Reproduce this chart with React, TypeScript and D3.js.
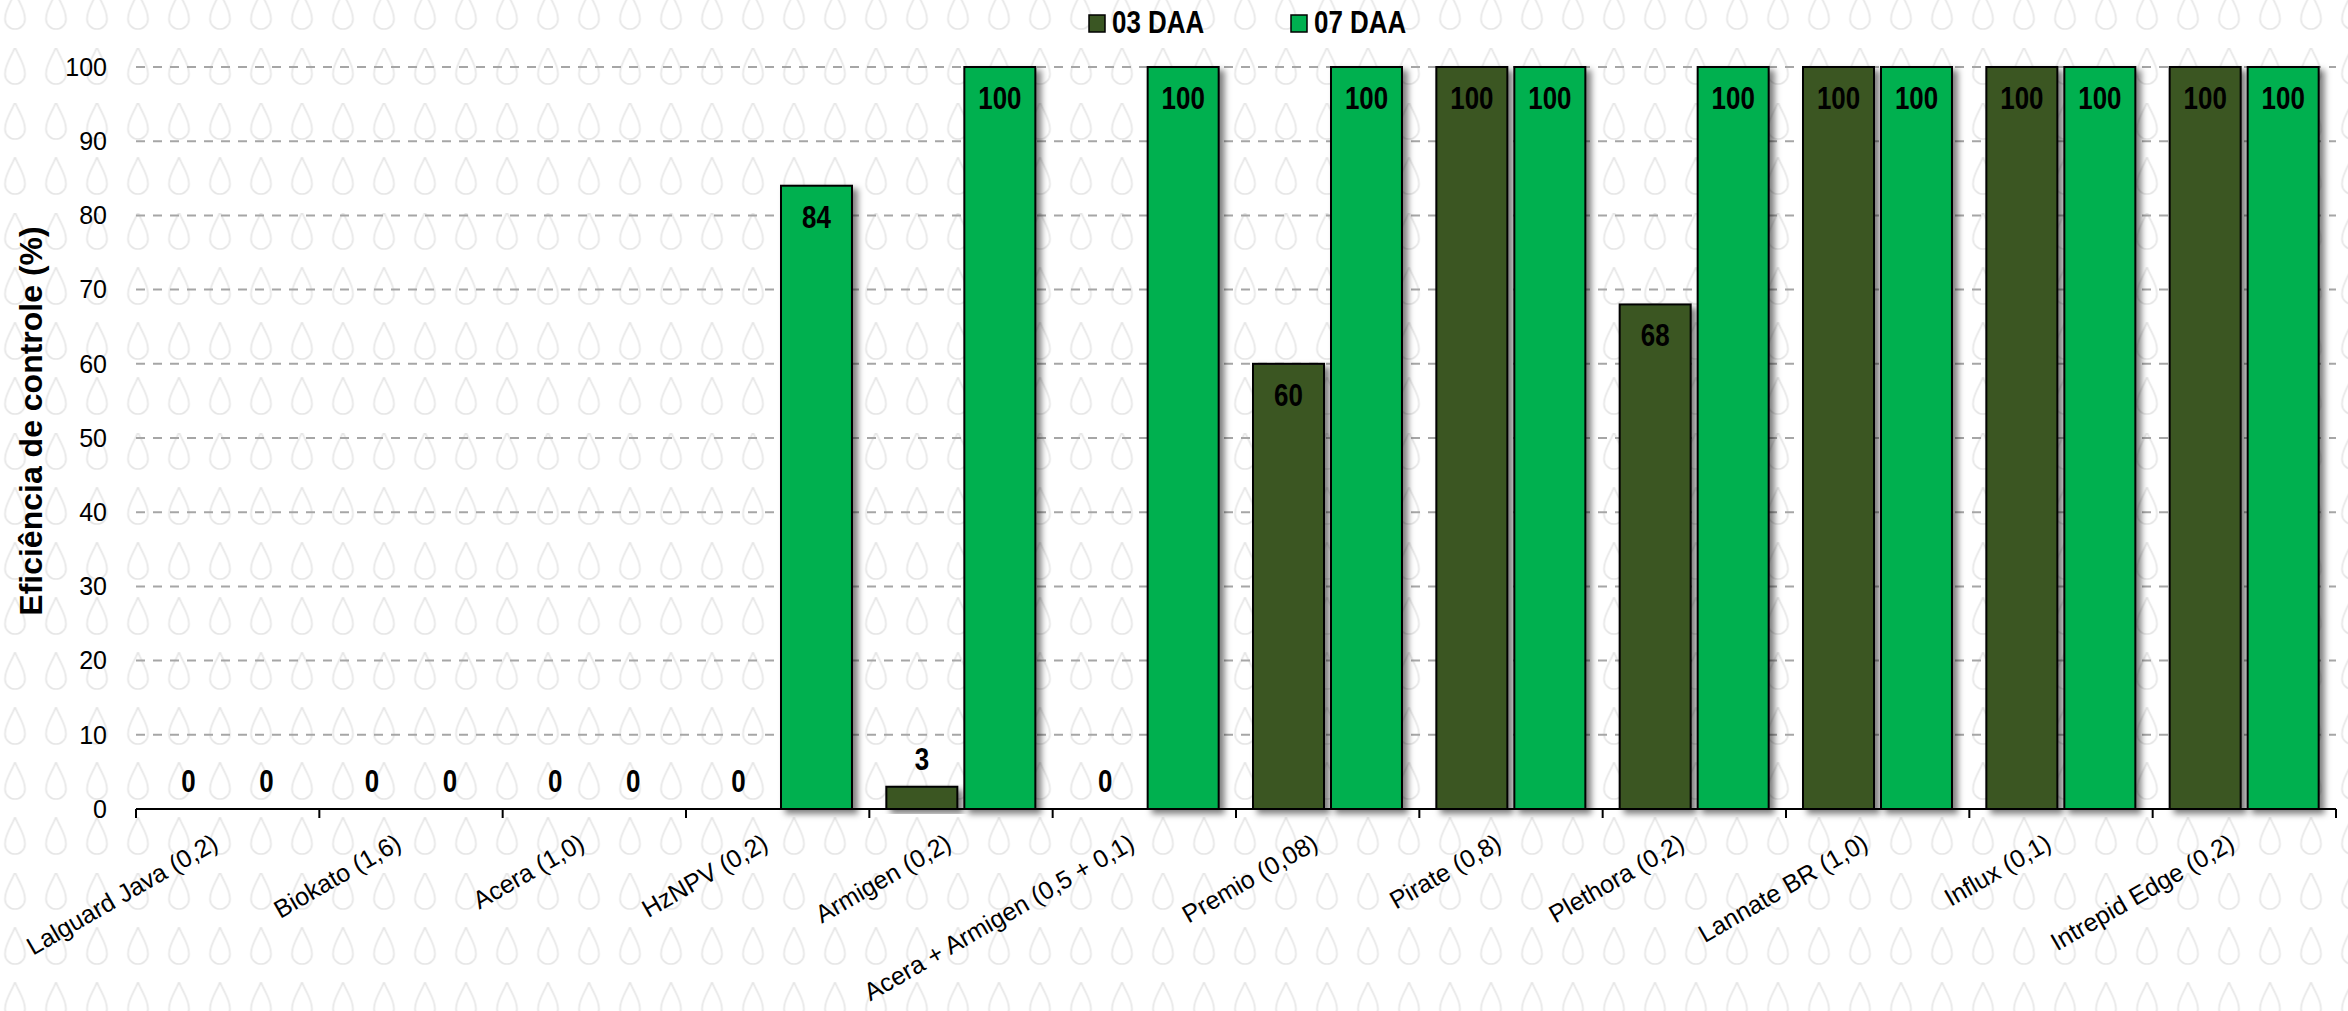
import React from "react";
import * as d3 from "d3";

const categories = [
  "Lalguard Java (0,2)",
  "Biokato (1,6)",
  "Acera (1,0)",
  "HzNPV (0,2)",
  "Armigen (0,2)",
  "Acera + Armigen (0,5 + 0,1)",
  "Premio (0,08)",
  "Pirate (0,8)",
  "Plethora (0,2)",
  "Lannate BR (1,0)",
  "Influx (0,1)",
  "Intrepid Edge (0,2)",
];
const seriesNames = ["03 DAA", "07 DAA"];
const daa03 = [0, 0, 0, 0, 3, 0, 60, 100, 68, 100, 100, 100];
const daa07 = [0, 0, 0, 84, 100, 100, 100, 100, 100, 100, 100, 100];
const yTicks = [0, 10, 20, 30, 40, 50, 60, 70, 80, 90, 100];
const colors = ["#3A5623", "#00B050"];
const yTitle = "Eficiência de controle (%)";

const W = 2348;
const H = 1011;
const plot = { left: 136, right: 2336, top: 67, bottom: 809 };
const sans = "'Liberation Sans', Arial, sans-serif";
const NARROW = 0.81;

export default function App() {
  const x = d3.scaleBand<string>().domain(categories).range([plot.left, plot.right]).paddingInner(0).paddingOuter(0);
  const step = x.step();
  const xs = d3
    .scaleBand<string>()
    .domain(seriesNames)
    .range([17, step - 17.33])
    .paddingInner(0.0897)
    .paddingOuter(0);
  const y = d3.scaleLinear().domain([0, 100]).range([plot.bottom, plot.top]);
  const series = [daa03, daa07];

  const dropPath = "M0,-19 C3,-10 10,-2 10,8 A10,10 0 0 1 -10,8 C-10,-2 -3,-10 0,-19 Z";

  return (
    <svg width={W} height={H} style={{ position: "absolute", left: 0, top: 0, display: "block", background: "#fff" }}>
      <defs>
        <pattern id="drops" x={-5.5} y={-8} width={41} height={55} patternUnits="userSpaceOnUse">
          <path d={dropPath} transform="translate(20.5,19)" fill="none" stroke="#e6e6e6" strokeWidth={1.7} />
        </pattern>
        <filter id="shadow" x="-20%" y="-10%" width="150%" height="130%">
          <feDropShadow dx={5} dy={4} stdDeviation={3} floodColor="#000" floodOpacity={0.5} />
        </filter>
      </defs>
      <rect x={0} y={0} width={W} height={H} fill="#fff" />
      <rect x={0} y={0} width={W} height={H} fill="url(#drops)" />

      {/* gridlines */}
      {yTicks
        .filter((t) => t > 0)
        .map((t) => (
          <line key={t} x1={plot.left} x2={plot.right} y1={y(t)} y2={y(t)} stroke="#a6a6a6" strokeWidth={2} strokeDasharray="9 8" />
        ))}

      {/* y tick labels */}
      {yTicks.map((t) => (
        <text key={t} x={107} y={y(t)} dy="0.35em" textAnchor="end" fontFamily={sans} fontSize={25} fill="#000">
          {t}
        </text>
      ))}

      {/* bars */}
      {categories.map((c, i) => (
        <g key={c} transform={`translate(${x(c)},0)`}>
          {series.map((vals, s) => {
            const v = vals[i];
            if (v <= 0) return null;
            return (
              <rect
                key={s}
                x={xs(seriesNames[s])}
                y={y(v)}
                width={xs.bandwidth()}
                height={y(0) - y(v)}
                fill={colors[s]}
                stroke="#000"
                strokeWidth={2}
                filter="url(#shadow)"
              />
            );
          })}
        </g>
      ))}

      {/* axis line */}
      <line x1={plot.left} x2={plot.right} y1={plot.bottom} y2={plot.bottom} stroke="#000" strokeWidth={2} />
      {d3.range(categories.length + 1).map((k) => (
        <line key={k} x1={plot.left + k * step} x2={plot.left + k * step} y1={plot.bottom} y2={plot.bottom + 9} stroke="#000" strokeWidth={2} />
      ))}

      {/* data labels */}
      {categories.map((c, i) => (
        <g key={c} transform={`translate(${x(c)},0)`}>
          {series.map((vals, s) => {
            const v = vals[i];
            const cx = (xs(seriesNames[s]) as number) + xs.bandwidth() / 2;
            const inside = v >= 20;
            const ty = inside ? y(v) + 42 : y(v) - 17;
            return (
              <text
                key={s}
                transform={`translate(${cx},${ty}) scale(${NARROW},1)`}
                textAnchor="middle"
                fontFamily={sans}
                fontWeight="bold"
                fontSize={32}
                fill="#000"
              >
                {v}
              </text>
            );
          })}
        </g>
      ))}

      {/* x labels */}
      {categories.map((c) => {
        const cx = (x(c) as number) + step / 2;
        return (
          <text
            key={c}
            transform={`translate(${cx - 8},${plot.bottom + 39}) rotate(-30)`}
            textAnchor="end"
            fontFamily={sans}
            fontSize={25}
            fill="#000"
          >
            {c}
          </text>
        );
      })}

      {/* y title */}
      <text
        transform={`translate(42,421) rotate(-90)`}
        textAnchor="middle"
        fontFamily={sans}
        fontWeight="bold"
        fontSize={32}
        fill="#000"
      >
        {yTitle}
      </text>

      {/* legend */}
      {seriesNames.map((n, s) => {
        const lx = s === 0 ? 1089 : 1291;
        return (
          <g key={n}>
            <rect x={lx} y={15} width={16} height={17} fill={colors[s]} stroke="#000" strokeWidth={1.5} />
            <text
              transform={`translate(${lx + 23},33) scale(${NARROW},1)`}
              fontFamily={sans}
              fontWeight="bold"
              fontSize={32}
              fill="#000"
            >
              {n}
            </text>
          </g>
        );
      })}
    </svg>
  );
}
